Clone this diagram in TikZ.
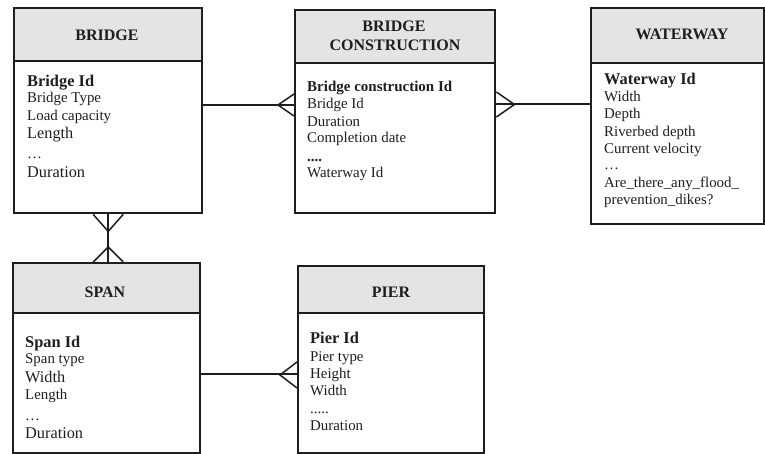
\documentclass[tikz,border=0pt]{standalone}
\usepackage{fontspec}
\setmainfont{Liberation Serif}
\definecolor{hdr}{HTML}{E4E4E4}
\definecolor{ink}{HTML}{1E1E1E}
\tikzset{
  entity/.style={draw=ink, line width=2.4pt, rectangle, inner sep=0pt, anchor=north west,
    path picture={\fill[hdr] (path picture bounding box.north west) rectangle ([yshift=-#1]path picture bounding box.north east);}},
  hline/.style={draw=ink, line width=2.4pt},
  conn/.style={draw=ink, line width=1.5pt, line join=miter},
  htitle/.style={anchor=base, inner sep=0pt, font=\fontsize{16}{18}\selectfont\bfseries, text=ink},
  fkey/.style={anchor=base west, inner sep=0pt, font=\fontsize{16.4}{18}\selectfont\bfseries, text=ink},
  fkeys/.style={anchor=base west, inner sep=0pt, font=\fontsize{15}{17}\selectfont\bfseries, text=ink},
  fatt/.style={anchor=base west, inner sep=0pt, font=\fontsize{14.9}{17}\selectfont, text=ink},
  fbig/.style={anchor=base west, inner sep=0pt, font=\fontsize{16.3}{18}\selectfont, text=ink}
}
\begin{document}
\begin{tikzpicture}[x=1pt,y=-1pt]
\useasboundingbox (0,0) rectangle (765,454);
% entities
\node[entity=54pt, minimum width=188pt, minimum height=205pt] (bridge) at (13,7) {};
\node[entity=54pt, minimum width=200pt, minimum height=203pt] (bc) at (294,9) {};
\node[entity=56pt, minimum width=173pt, minimum height=216pt] (waterway) at (590,7) {};
\node[entity=51pt, minimum width=187pt, minimum height=190pt] (span) at (12,262) {};
\node[entity=48pt, minimum width=186pt, minimum height=187pt] (pier) at (297,265) {};
% header separators
\draw[hline] ([yshift=-54pt]bridge.north west) -- ([yshift=-54pt]bridge.north east);
\draw[hline] ([yshift=-54pt]bc.north west) -- ([yshift=-54pt]bc.north east);
\draw[hline] ([yshift=-56pt]waterway.north west) -- ([yshift=-56pt]waterway.north east);
\draw[hline] ([yshift=-51pt]span.north west) -- ([yshift=-51pt]span.north east);
\draw[hline] ([yshift=-48pt]pier.north west) -- ([yshift=-48pt]pier.north east);
% titles
\node[htitle] (tbridge) at (107,41) {BRIDGE};
\node[htitle] (tbc1) at (394,32) {BRIDGE};
\node[htitle] (tbc2) at (395,51) {CONSTRUCTION};
\node[htitle] (twaterway) at (682,40) {WATERWAY};
\node[htitle] (tspan) at (105,297) {SPAN};
\node[htitle] (tpier) at (391,297) {PIER};
% attributes
\foreach \yy/\txt/\st [count=\i] in {87/{Bridge Id}/fkey, 103/{Bridge Type}/fatt, 121/{Load capacity}/fatt,
  139/{Length}/fbig, 159/{\dots}/fatt, 178/{Duration}/fbig}
  \node[\st] (bridge-a\i) at (27,\yy) {\txt};
\foreach \yy/\txt/\st [count=\i] in {92/{Bridge construction Id}/fkeys, 109/{Bridge Id}/fatt, 127/{Duration}/fatt,
  143/{Completion date}/fatt, 162/{....}/fkeys, 178/{Waterway Id}/fatt}
  \node[\st] (bc-a\i) at (307,\yy) {\txt};
\foreach \yy/\txt/\st [count=\i] in {85/{Waterway Id}/fkey, 102/{Width}/fatt, 119/{Depth}/fatt,
  137/{Riverbed depth}/fatt, 154/{Current velocity}/fatt, 170/{\dots}/fatt,
  188/{Are\_there\_any\_flood\_}/fatt, 205/{prevention\_dikes?}/fatt}
  \node[\st] (waterway-a\i) at (604,\yy) {\txt};
\foreach \yy/\txt/\st [count=\i] in {347/{Span Id}/fkey, 363/{Span type}/fatt, 382/{Width}/fbig,
  399/{Length}/fatt, 420/{\dots}/fatt, 438/{Duration}/fbig}
  \node[\st] (span-a\i) at (25,\yy) {\txt};
\foreach \yy/\txt/\st [count=\i] in {343/{Pier Id}/fkey, 361/{Pier type}/fatt, 378/{Height}/fatt,
  395/{Width}/fatt, 413/{.....}/fatt, 430/{Duration}/fatt}
  \node[\st] (pier-a\i) at (310,\yy) {\txt};
% connectors
\draw[conn] ([yshift=-98pt]bridge.north east) -- ([yshift=-96pt]bc.north west);
\draw[conn] ([yshift=-85pt]bc.north west) -- ++(-16,11) -- ++(16,11);
\draw[conn] ([yshift=-95pt]bc.north east) -- ([yshift=-97pt]waterway.north west);
\draw[conn] ([yshift=-83pt]bc.north east) -- ++(18,12.5) -- ++(-18,12.5);
\coordinate (sn) at (bridge.south |- span.north);
\draw[conn] (bridge.south) -- (sn);
\draw[conn] ([xshift=-15pt]bridge.south) -- ++(15,17) -- ++(15,-17);
\draw[conn] ([xshift=-15pt]sn) -- ++(15,-15) -- ++(15,15);
\draw[conn] ([yshift=-112pt]span.north east) -- ([yshift=-109pt]pier.north west);
\draw[conn] ([yshift=-97pt]pier.north west) -- ++(-17,13) -- ++(17,13);
\end{tikzpicture}
\end{document}
